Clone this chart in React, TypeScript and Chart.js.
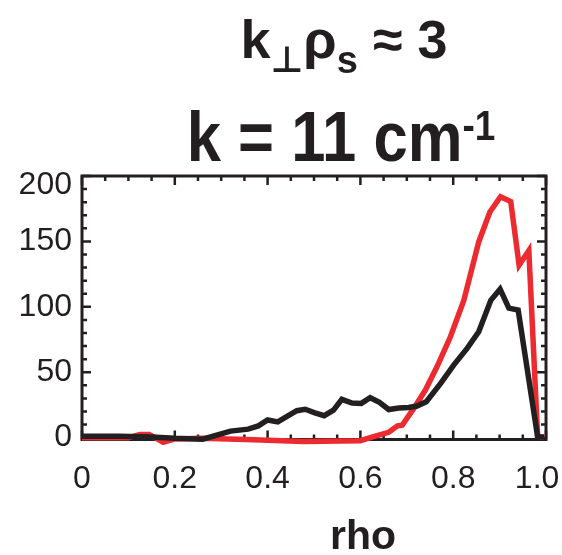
import React, { useEffect, useRef } from "react";
import { Chart, registerables } from "chart.js";

Chart.register(...registerables);

// ---- data ----
const rhoBlack = [0, 0.08, 0.15, 0.2, 0.26, 0.32, 0.358, 0.38, 0.4, 0.422, 0.441, 0.463, 0.481, 0.502, 0.522, 0.542, 0.56, 0.582, 0.602, 0.621, 0.641, 0.661, 0.683, 0.704, 0.722, 0.742, 0.773, 0.801, 0.83, 0.855, 0.881, 0.901, 0.92, 0.94, 0.982, 0.996];
const valBlack = [1, 1, 0.5, -0.5, -1.2, 5, 6.5, 9, 13.5, 12, 16, 20.6, 21.7, 19, 16.8, 21, 29.3, 26.5, 26.2, 30.5, 27, 21.5, 22.7, 23, 24.2, 27.5, 41.5, 55.5, 68.2, 81, 105, 113.5, 99, 97.5, 0.5, 0.5];

const rhoRed = [0, 0.1, 0.125, 0.145, 0.175, 0.2, 0.26, 0.37, 0.477, 0.6, 0.628, 0.661, 0.68, 0.69, 0.715, 0.74, 0.765, 0.794, 0.823, 0.855, 0.879, 0.902, 0.924, 0.942, 0.963, 0.982, 0.996];
const valRed = [0, 0, 2.5, 2.5, -3.5, -1, -0.5, -1.5, -3, -2.3, 0.8, 4.1, 9, 9.5, 22.4, 36.4, 54.2, 77.1, 105, 149.6, 172.5, 184.2, 180.5, 131.8, 143, 1, 0];

const xTickValues = [0, 0.2, 0.4, 0.6, 0.8, 1.0];
const xTickLabels = ["0", "0.2", "0.4", "0.6", "0.8", "1.0  "];
const yTickValues = [0, 50, 100, 150, 200];
const yTickLabels: (string | string[])[] = ["0", "50", "100", "150", ["", "200"]];

const INK = "#231f20";
const RED = "#ec2b30";
const FONT = "'Liberation Sans', Arial, Helvetica, sans-serif";

const frameTicks = {
  id: "frameTicks",
  beforeDatasetsDraw(chart: any) {
    const { ctx, chartArea } = chart;
    const { left, right, top, bottom } = chartArea;
    const xs = chart.scales.x;
    const ys = chart.scales.y;
    ctx.save();
    ctx.strokeStyle = INK;
    ctx.lineWidth = 2.5;
    for (let i = 0; i <= 20; i++) {
      const px = xs.getPixelForValue(i * 0.05);
      const len = i % 4 === 0 ? 9 : 5;
      ctx.beginPath();
      ctx.moveTo(px, bottom);
      ctx.lineTo(px, bottom - len);
      ctx.moveTo(px, top);
      ctx.lineTo(px, top + len);
      ctx.stroke();
    }
    for (let i = 0; i <= 20; i++) {
      const py = ys.getPixelForValue(i * 10);
      const len = i % 5 === 0 ? 9 : 5;
      ctx.beginPath();
      ctx.moveTo(left, py);
      ctx.lineTo(left + len, py);
      ctx.moveTo(right, py);
      ctx.lineTo(right - len, py);
      ctx.stroke();
    }
    ctx.lineWidth = 3;
    ctx.strokeRect(left, top, right - left, bottom - top);
    ctx.restore();
  },
};

export default function App() {
  const ref = useRef<HTMLCanvasElement | null>(null);

  useEffect(() => {
    if (!ref.current) return;
    const chart = new Chart(ref.current, {
      type: "line",
      data: {
        datasets: [
          {
            label: "black",
            data: rhoBlack.map((x, i) => ({ x, y: valBlack[i] })),
            borderColor: INK,
            borderWidth: 5.5,
            pointRadius: 0,
            tension: 0,
            borderJoinStyle: "miter",
            clip: false as any,
          },
          {
            label: "red",
            data: rhoRed.map((x, i) => ({ x, y: valRed[i] })),
            borderColor: RED,
            borderWidth: 5.5,
            pointRadius: 0,
            tension: 0,
            borderJoinStyle: "miter",
            clip: false as any,
          },
        ],
      },
      options: {
        responsive: false,
        animation: false,
        events: [],
        layout: { padding: { left: 0, top: 176, right: 16, bottom: 0 } },
        plugins: { legend: { display: false }, tooltip: { enabled: false }, title: { display: false } },
        scales: {
          x: {
            type: "linear",
            min: 0,
            max: 1,
            grid: { display: false, drawTicks: false },
            border: { display: false },
            afterBuildTicks: (s: any) => {
              s.ticks = xTickValues.map((v) => ({ value: v }));
            },
            afterFit: (s: any) => {
              s.height = 115.5;
              s.paddingLeft = 0;
              s.paddingRight = 0;
            },
            ticks: {
              maxRotation: 0,
              autoSkip: false,
              padding: 20,
              color: INK,
              font: { family: FONT, size: 32 },
              callback: (_v: any, i: number) => xTickLabels[i],
            },
          },
          y: {
            type: "linear",
            min: -1.4,
            max: 200,
            grid: { display: false, drawTicks: false },
            border: { display: false },
            afterBuildTicks: (s: any) => {
              s.ticks = yTickValues.map((v) => ({ value: v }));
            },
            afterFit: (s: any) => {
              s.width = 82;
              s.paddingTop = 0;
              s.paddingBottom = 0;
            },
            ticks: {
              autoSkip: false,
              padding: 10,
              color: INK,
              font: (c: any) => ({ family: FONT, size: 32, lineHeight: c.index === 4 ? 0.6 : 1.2 }),
              callback: (_v: any, i: number) => yTickLabels[i],
            },
          },
        },
      },
      plugins: [frameTicks],
    });
    return () => chart.destroy();
  }, []);

  return (
    <div style={{ position: "absolute", left: 0, top: 0, width: 562, height: 555, background: "#fff", fontFamily: FONT, color: INK }}>
      <canvas ref={ref} width={562} height={555} style={{ position: "absolute", left: 0, top: 0, width: 562, height: 555 }} />
      <div style={{ position: "absolute", left: 344, top: 12, transform: "translateX(-50%)", whiteSpace: "nowrap", fontSize: 54, fontWeight: "bold", lineHeight: "54px" }}>
        k<span style={{ fontSize: 36, verticalAlign: -14, fontWeight: "bold", fontFamily: "'DejaVu Sans', sans-serif" }}>⊥</span>ρ<span style={{ fontSize: 38, verticalAlign: -15 }}>s</span> ≈ 3
      </div>
      <div style={{ position: "absolute", left: 341, top: 91, transform: "translateX(-50%) scaleX(0.88)", whiteSpace: "nowrap", fontSize: 70, fontWeight: "bold", lineHeight: "70px" }}>
        k = 11 cm<span style={{ fontSize: 42, verticalAlign: 21 }}>-1</span>
      </div>
      <div style={{ position: "absolute", left: 363, top: 515, transform: "translateX(-50%)", whiteSpace: "nowrap", fontSize: 41, fontWeight: "bold", lineHeight: "41px" }}>
        rho
      </div>
    </div>
  );
}
